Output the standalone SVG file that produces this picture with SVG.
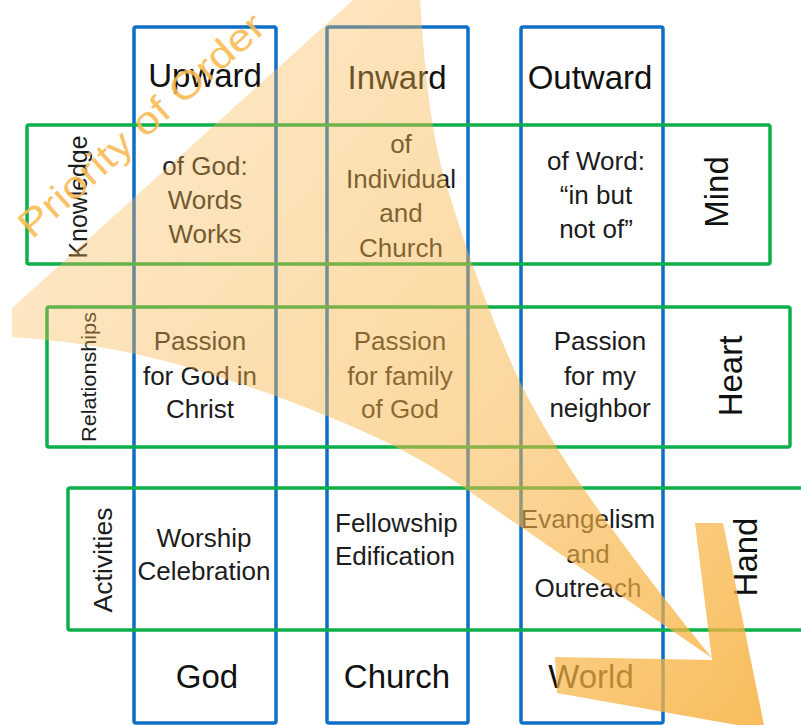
<svg xmlns="http://www.w3.org/2000/svg" width="801" height="725" viewBox="0 0 801 725">
<style>
.col{fill:none;stroke:#0F6FC6;stroke-width:3.5}
.row{fill:none;stroke:#0CB04A;stroke-width:3.5}
.hd{font-family:"Liberation Sans",Arial,sans-serif;font-size:33px;fill:#111;text-anchor:middle}
.bd{font-family:"Liberation Sans",Arial,sans-serif;font-size:26px;fill:#1c1c1c;text-anchor:middle}
.bl{font-family:"Liberation Sans",Arial,sans-serif;font-size:26px;fill:#1c1c1c;text-anchor:start}
.sd{font-family:"Liberation Sans",Arial,sans-serif;fill:#1c1c1c;text-anchor:middle}
</style>
<defs>
<linearGradient id="og" gradientUnits="userSpaceOnUse" x1="80" y1="120" x2="770" y2="720">
<stop offset="0" stop-color="#F9B850" stop-opacity="0.32"/>
<stop offset="0.6" stop-color="#F8B548" stop-opacity="0.55"/>
<stop offset="1" stop-color="#F7B13E" stop-opacity="0.85"/>
</linearGradient>
</defs>
<rect width="801" height="725" fill="#fff"/>
<g id="col-upward">
<rect class="col" x="134" y="27" width="142" height="696" rx="2"/>
<text class="hd" x="205" y="87">Upward</text>
<text class="hd" x="207" y="688">God</text>
</g>
<g id="col-inward">
<rect class="col" x="327" y="27" width="141" height="696" rx="2"/>
<text class="hd" x="397" y="89">Inward</text>
<text class="hd" x="397" y="688">Church</text>
</g>
<g id="col-outward">
<rect class="col" x="521" y="27" width="142" height="696" rx="2"/>
<text class="hd" x="590" y="89">Outward</text>
<text class="hd" x="591" y="688">World</text>
</g>
<g id="row-knowledge">
<rect class="row" x="27" y="125" width="743" height="139" rx="2"/>
<text class="sd" font-size="25" fill="#111" transform="translate(87,197) rotate(-90)" textLength="123" lengthAdjust="spacingAndGlyphs">Knowledge</text>
<text class="hd" transform="translate(728,192) rotate(-90)">Mind</text>
</g>
<g id="row-relationships">
<rect class="row" x="47" y="307" width="743" height="140" rx="2"/>
<text class="sd" font-size="21" transform="translate(96,377) rotate(-90)" textLength="130" lengthAdjust="spacingAndGlyphs">Relationships</text>
<text class="hd" transform="translate(742,376) rotate(-90)">Heart</text>
</g>
<g id="row-activities">
<rect class="row" x="68" y="488" width="750" height="142" rx="2"/>
<text class="sd" font-size="25" transform="translate(112,560) rotate(-90)" textLength="105" lengthAdjust="spacingAndGlyphs">Activities</text>
<text class="hd" transform="translate(757,557) rotate(-90)">Hand</text>
</g>
<g id="cell-knowledge-upward">
<text class="bd" x="205" y="175">of God:</text>
<text class="bd" x="205" y="209">Words</text>
<text class="bd" x="205" y="243">Works</text>
</g>
<g id="cell-knowledge-inward">
<text class="bd" x="401" y="153">of</text>
<text class="bd" x="401" y="188">Individual</text>
<text class="bd" x="401" y="222">and</text>
<text class="bd" x="401" y="257">Church</text>
</g>
<g id="cell-knowledge-outward">
<text class="bd" x="596" y="170">of Word:</text>
<text class="bd" x="596" y="204">“in but</text>
<text class="bd" x="596" y="238">not of”</text>
</g>
<g id="cell-relationships-upward">
<text class="bd" x="200" y="350">Passion</text>
<text class="bd" x="200" y="385">for God in</text>
<text class="bd" x="200" y="418">Christ</text>
</g>
<g id="cell-relationships-inward">
<text class="bd" x="400" y="350">Passion</text>
<text class="bd" x="400" y="385">for family</text>
<text class="bd" x="400" y="418">of God</text>
</g>
<g id="cell-relationships-outward">
<text class="bd" x="600" y="350">Passion</text>
<text class="bd" x="600" y="385">for my</text>
<text class="bd" x="600" y="417">neighbor</text>
</g>
<g id="cell-activities-upward">
<text class="bd" x="204" y="547">Worship</text>
<text class="bd" x="204" y="580">Celebration</text>
</g>
<g id="cell-activities-inward">
<text class="bl" x="335" y="532">Fellowship</text>
<text class="bl" x="335" y="565">Edification</text>
</g>
<g id="cell-activities-outward">
<text class="bd" x="588" y="528">Evangelism</text>
<text class="bd" x="588" y="563">and</text>
<text class="bd" x="588" y="597">Outreach</text>
</g>
<g id="priority-arrow">
<path fill="url(#og)" d="M12,308 L353,0 L420,0 C424,60 430,130 445,180 C460,230 480,290 510,360 C540,430 600,520 712,658 L550,547 L450,478 C400,445 340,420 273,395 C200,370 130,345 12,337 Z"/>
<path fill="url(#og)" d="M695,523 L723,523 L765,730 L557,693 L555,657 L712,660 Z"/>
<text font-family="Liberation Sans,Arial,sans-serif" font-size="38" fill="#F8BA50" fill-opacity="0.9" transform="translate(32,240) rotate(-41.7)" textLength="316" lengthAdjust="spacingAndGlyphs">Priority of Order</text>
</g>
</svg>
